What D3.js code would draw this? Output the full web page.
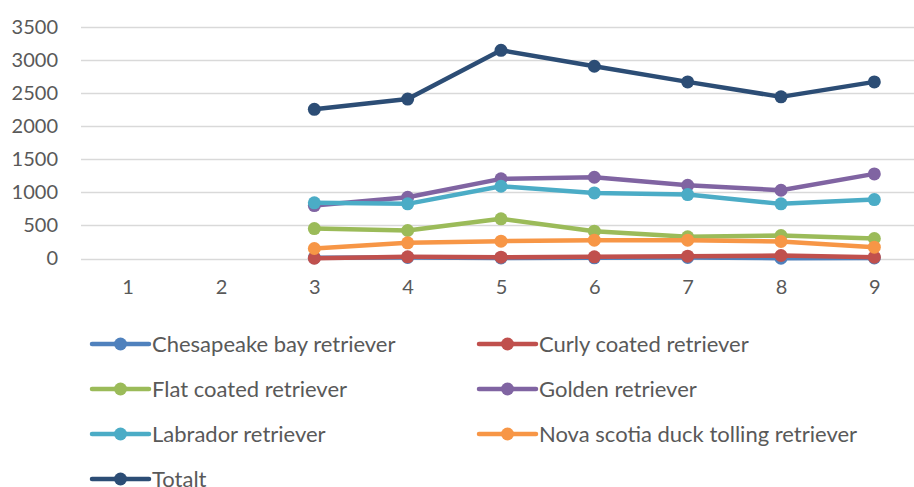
<!DOCTYPE html>
<html>
<head>
<meta charset="utf-8">
<script src="https://cdn.jsdelivr.net/npm/d3@7"></script>
<style>
  body { margin: 0; background: #fff; }
  text { font-family: Lato, "Open Sans", sans-serif; fill: #595959; }
</style>
</head>
<body>
<script>
// Chart size
var svgWidth = 914;
var svgHeight = 487;

// Data (1 and 2 have no values)
var categories = ["1", "2", "3", "4", "5", "6", "7", "8", "9"];
var yTicks = [0, 500, 1000, 1500, 2000, 2500, 3000, 3500];
var seriesNames = [
  "Chesapeake bay retriever",
  "Curly coated retriever",
  "Flat coated retriever",
  "Golden retriever",
  "Labrador retriever",
  "Nova scotia duck tolling retriever",
  "Totalt"
];
var chesapeake = [null, null, 10, 15, 8, 10, 15, 5, 8];
var curly = [null, null, 5, 25, 20, 25, 35, 45, 20];
var flatCoated = [null, null, 453, 423, 600, 413, 328, 347, 302];
var golden = [null, null, 800, 926, 1204, 1228, 1107, 1032, 1279];
var labrador = [null, null, 841, 826, 1092, 992, 967, 826, 891];
var novaScotia = [null, null, 151, 237, 262, 277, 277, 257, 171];
var totalt = [null, null, 2255, 2410, 3148, 2907, 2670, 2444, 2670];

var colors = ["#4F81BD", "#C0504D", "#9BBB59", "#8064A2", "#4BACC6", "#F79646", "#2C4D75"];

var allSeries = [chesapeake, curly, flatCoated, golden, labrador, novaScotia, totalt].map(function(vals, i) {
  return { name: seriesNames[i], color: colors[i], values: vals };
});

var svg = d3.select("body")
  .append("svg")
  .attr("width", svgWidth)
  .attr("height", svgHeight);

// Scales
var x = d3.scalePoint()
  .domain(categories)
  .range([81, 921])
  .padding(0.5);

var y = d3.scaleLinear()
  .domain([0, 3500])
  .range([258.5, 27]);

// Gridlines
svg.append("g")
  .selectAll("line")
  .data(yTicks)
  .enter()
  .append("line")
  .attr("x1", 81)
  .attr("x2", svgWidth)
  .attr("y1", function(d) { return Math.round(y(d)) + 0.5; })
  .attr("y2", function(d) { return Math.round(y(d)) + 0.5; })
  .attr("stroke", "#D9D9D9")
  .attr("stroke-width", 1.5);

// Y axis labels (no thousands separator)
var yAxis = d3.axisLeft(y).tickValues(yTicks).tickFormat(d3.format("d")).tickSize(0).tickPadding(0);
var yG = svg.append("g")
  .attr("transform", "translate(58,0)")
  .call(yAxis);
yG.select(".domain").remove();
yG.selectAll("text")
  .attr("font-size", "20px")
  .attr("font-family", "Lato, sans-serif")
  .attr("fill", "#595959");

// X axis labels
var xAxis = d3.axisBottom(x).tickSize(0).tickPadding(0);
var xG = svg.append("g")
  .attr("transform", "translate(0,280)")
  .call(xAxis);
xG.select(".domain").remove();
xG.selectAll("text")
  .attr("font-size", "20px")
  .attr("font-family", "Lato, sans-serif")
  .attr("fill", "#595959");

// Lines
var line = d3.line()
  .defined(function(d) { return d != null; })
  .x(function(d, i) { return x(categories[i]); })
  .y(function(d) { return y(d); });

allSeries.forEach(function(s) {
  var g = svg.append("g");
  g.append("path")
    .datum(s.values)
    .attr("fill", "none")
    .attr("stroke", s.color)
    .attr("stroke-width", 4.5)
    .attr("stroke-linejoin", "round")
    .attr("d", line);
  g.selectAll("circle")
    .data(s.values.map(function(v, i) { return { v: v, c: categories[i] }; })
      .filter(function(d) { return d.v != null; }))
    .enter()
    .append("circle")
    .attr("cx", function(d) { return x(d.c); })
    .attr("cy", function(d) { return y(d.v); })
    .attr("r", 6.5)
    .attr("fill", s.color);
});

// Legend: two columns
var legend = svg.append("g");
allSeries.forEach(function(s, i) {
  var col = i % 2;
  var row = Math.floor(i / 2);
  var lx = col === 0 ? 92 : 479;
  var ly = 344 + row * 45;
  var item = legend.append("g").attr("transform", "translate(" + lx + "," + ly + ")");
  item.append("line")
    .attr("x1", 0).attr("x2", 57)
    .attr("y1", 0).attr("y2", 0)
    .attr("stroke", s.color)
    .attr("stroke-width", 4.5)
    .attr("stroke-linecap", "round");
  item.append("circle")
    .attr("cx", 28.5).attr("cy", 0).attr("r", 6.5)
    .attr("fill", s.color);
  item.append("text")
    .attr("x", 60)
    .attr("y", 0)
    .attr("dy", "0.35em")
    .attr("font-size", "22px")
    .text(s.name);
});
</script>
</body>
</html>
